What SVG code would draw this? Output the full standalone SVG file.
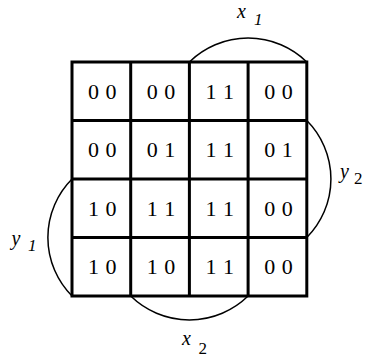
<svg xmlns="http://www.w3.org/2000/svg" width="369" height="362" viewBox="0 0 369 362">
<style>
.grid{fill:none;stroke:#000;stroke-width:3}
.arc{fill:none;stroke:#000;stroke-width:1.5}
.cell{font-family:"Liberation Serif",serif;font-size:22px;text-anchor:middle;fill:#000;letter-spacing:0.5px}
.lab{font-family:"Liberation Serif",serif;font-size:20px;font-style:italic;fill:#000}
.sub{font-family:"Liberation Serif",serif;font-size:17px;fill:#000}
.subi{font-family:"Liberation Serif",serif;font-size:17px;font-style:italic;fill:#000}
</style>
<rect width="369" height="362" fill="#fff"/>
<g id="connectors">
<path class="arc" d="M189.4,62 A84,84 0 0 1 306.8,62"/>
<path class="arc" d="M306.8,120.5 A83,83 0 0 1 306.8,237.5"/>
<path class="arc" d="M72,296 A83,83 0 0 1 72,179"/>
<path class="arc" d="M248.1,296 A84,84 0 0 1 130.7,296"/>
</g>
<g id="grid">
<rect class="grid" x="72" y="62" width="234.8" height="234"/>
<path class="grid" d="M130.7,62V296M189.4,62V296M248.1,62V296M72,120.5H306.8M72,179H306.8M72,237.5H306.8"/>
</g>
<g id="cells">
<text class="cell" x="102.6" y="98.5">0 0</text>
<text class="cell" x="161.3" y="98.5">0 0</text>
<text class="cell" x="220" y="98.5">1 1</text>
<text class="cell" x="278.7" y="98.5">0 0</text>
<text class="cell" x="102.6" y="157">0 0</text>
<text class="cell" x="161.3" y="157">0 1</text>
<text class="cell" x="220" y="157">1 1</text>
<text class="cell" x="278.7" y="157">0 1</text>
<text class="cell" x="102.6" y="215.5">1 0</text>
<text class="cell" x="161.3" y="215.5">1 1</text>
<text class="cell" x="220" y="215.5">1 1</text>
<text class="cell" x="278.7" y="215.5">0 0</text>
<text class="cell" x="102.6" y="274">1 0</text>
<text class="cell" x="161.3" y="274">1 0</text>
<text class="cell" x="220" y="274">1 1</text>
<text class="cell" x="278.7" y="274">0 0</text>
</g>
<g id="label-x1"><text class="lab" x="237" y="17.5">x</text><text class="subi" x="254" y="25">1</text></g>
<g id="label-y2"><text class="lab" x="340" y="177.5">y</text><text class="sub" x="354" y="184">2</text></g>
<g id="label-y1"><text class="lab" x="11.5" y="245">y</text><text class="subi" x="28" y="251">1</text></g>
<g id="label-x2"><text class="lab" x="182" y="345">x</text><text class="sub" x="198.5" y="354">2</text></g>
</svg>
